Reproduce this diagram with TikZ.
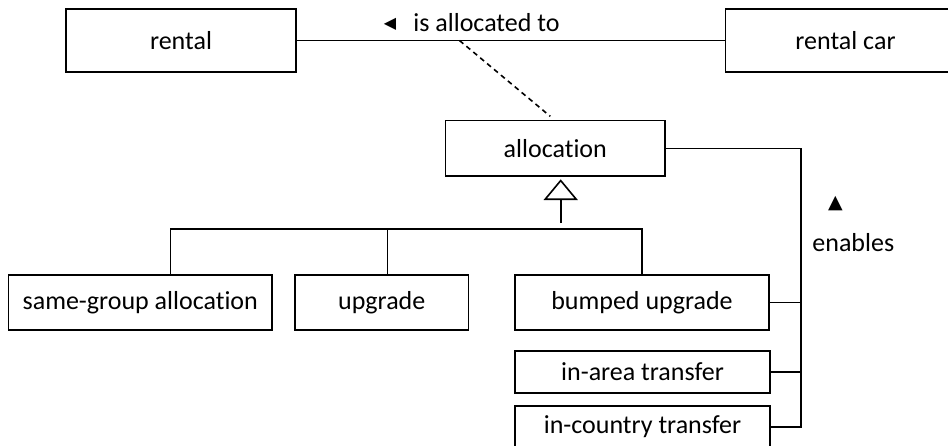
\documentclass[tikz,border=0pt]{standalone}
\usepackage{fontspec}
\setmainfont{Carlito}[Ligatures=NoCommon]
\newfontfamily\symfont{DejaVu Sans}
\usetikzlibrary{arrows.meta}
\tikzset{
  cls/.style={draw, line width=1.6pt, inner sep=0pt, font=\fontsize{26}{30}\selectfont},
  lbl/.style={inner sep=0pt, font=\fontsize{26}{30}\selectfont},
  sym/.style={inner sep=0pt},
  conn/.style={line width=1.6pt},
}
\begin{document}
\begin{tikzpicture}[x=1pt,y=-1pt]
\useasboundingbox (0,0) rectangle (948,445);
\clip (0,0) rectangle (948,445);
% classes
\node[cls, minimum width=230pt, minimum height=63pt] (rental) at (181,40.5) {rental};
\node[cls, minimum width=240pt, minimum height=63pt] (car) at (845.5,40.5) {rental car};
\node[cls, minimum width=219.4pt, minimum height=55.3pt] (alloc) at (555.3,148.3) {allocation};
\node[cls, minimum width=263.5pt, minimum height=55pt] (sg) at (140.25,302.5) {same-group allocation};
\node[cls, minimum width=173.5pt, minimum height=55pt] (up) at (381.75,302.5) {upgrade};
\node[cls, minimum width=254pt, minimum height=55pt] (bu) at (642,302.5) {bumped upgrade};
\node[cls, minimum width=255pt, minimum height=42pt] (ia) at (642.5,371.7) {in-area transfer};
\node[cls, minimum width=255pt, minimum height=42pt] (ic) at (642.5,427) {in-country transfer};
% labels
\node[sym, font=\symfont\fontsize{16}{18}\selectfont] (ltri) at (390,24) {◀};
\node[lbl] (isal) at (486.5,23) {is allocated to};
\node[sym, font=\symfont\fontsize{19}{21}\selectfont] (utri) at (835.5,204) {▲};
\node[lbl] (en) at (853.3,242.7) {enables};
% association
\draw[conn] (rental.east) -- (car.west);
\coordinate (ac) at (459.5,40.5);
\draw[conn, dash pattern=on 5pt off 4pt] (ac) -- ([xshift=-5pt,yshift=3.5pt]alloc.north);
% generalization
\coordinate (tip) at (560.7,179.3);
\coordinate (stem) at (560.7,223);
\coordinate (bl) at (170.5,229);
\coordinate (br) at (642,229);
\draw[conn, -{Triangle[open, length=20.7pt, width=34pt, line width=1.6pt]}] (stem) -- (tip);
\draw[conn] ([xshift=30.25pt]sg.north) -- (bl) -- (br) -- (bu.north);
\draw[conn] ([xshift=5.75pt]up.north) -- ([xshift=5.75pt]up.north |- bl);
% enables
\coordinate (ej) at (801,148.3);
\draw[conn] (alloc.east) -- (ej) |- (ic.east);
\draw[conn] (bu.east) -- (bu.east -| ej);
\draw[conn] (ia.east) -- (ia.east -| ej);
\end{tikzpicture}
\end{document}
